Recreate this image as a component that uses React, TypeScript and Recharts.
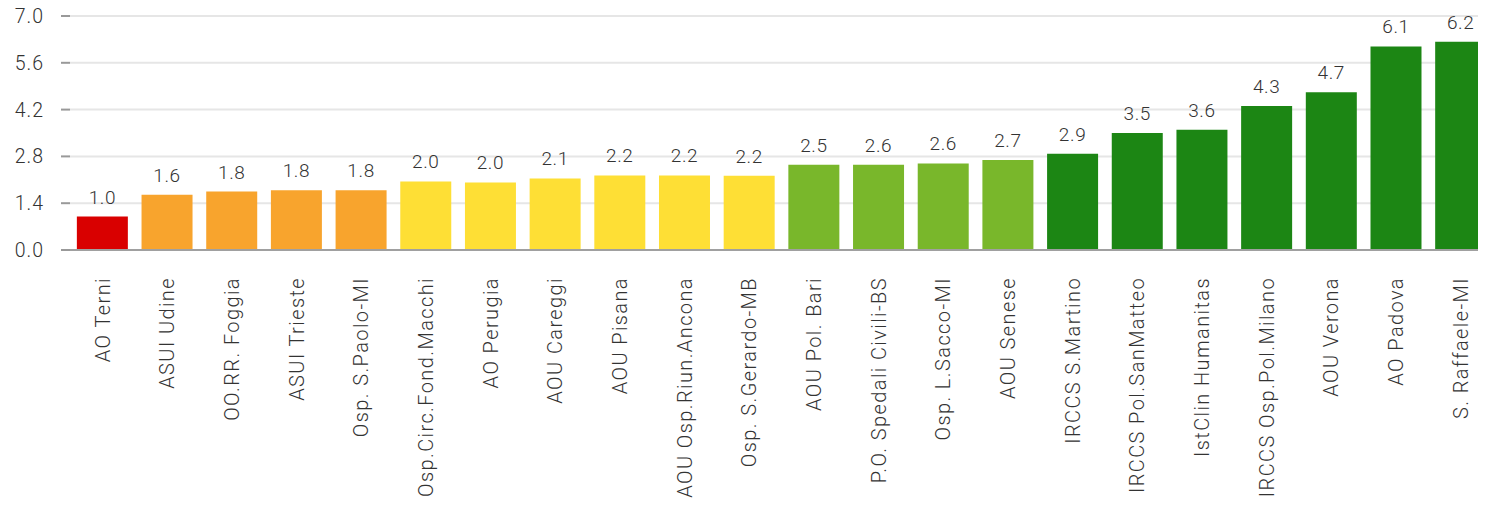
import React from 'react';
import { BarChart, Bar, XAxis, YAxis, CartesianGrid, Cell, LabelList } from 'recharts';

const categories = [
  'AO Terni', 'ASUI Udine', 'OO.RR. Foggia', 'ASUI Trieste', 'Osp. S.Paolo-MI',
  'Osp.Circ.Fond.Macchi', 'AO Perugia', 'AOU Careggi', 'AOU Pisana', 'AOU Osp.Riun.Ancona',
  'Osp. S.Gerardo-MB', 'AOU Pol. Bari', 'P.O. Spedali Civili-BS', 'Osp. L.Sacco-MI', 'AOU Senese',
  'IRCCS S.Martino', 'IRCCS Pol.SanMatteo', 'IstClin Humanitas', 'IRCCS Osp.Pol.Milano', 'AOU Verona',
  'AO Padova', 'S. Raffaele-MI',
];
const values = [
  1.0, 1.65, 1.75, 1.79, 1.79,
  2.05, 2.02, 2.14, 2.23, 2.23,
  2.22, 2.55, 2.55, 2.59, 2.69,
  2.88, 3.5, 3.6, 4.31, 4.72,
  6.09, 6.23,
];
const valueLabels = [
  '1.0', '1.6', '1.8', '1.8', '1.8',
  '2.0', '2.0', '2.1', '2.2', '2.2',
  '2.2', '2.5', '2.6', '2.6', '2.7',
  '2.9', '3.5', '3.6', '4.3', '4.7',
  '6.1', '6.2',
];
const colorGroups = [
  'red', 'orange', 'orange', 'orange', 'orange',
  'yellow', 'yellow', 'yellow', 'yellow', 'yellow',
  'yellow', 'lightgreen', 'lightgreen', 'lightgreen', 'lightgreen',
  'green', 'green', 'green', 'green', 'green',
  'green', 'green',
];
const yTicks = [0, 1.4, 2.8, 4.2, 5.6, 7.0];

const palette: Record<string, string> = {
  red: '#d90000',
  orange: '#f8a42d',
  yellow: '#fedf35',
  lightgreen: '#79b72b',
  green: '#1c8614',
};

const data = categories.map((name, i) => ({
  name,
  value: values[i],
  label: valueLabels[i],
  group: colorGroups[i],
}));

const FONT = 'Roboto, "DejaVu Sans", sans-serif';
const TEXT_COLOR = '#333';

const XTick = (props: any) => {
  const { x, y, payload } = props;
  return (
    <g transform={`translate(${x},${y})`}>
      <text
        transform="rotate(-90)"
        textAnchor="end"
        dy="0.36em"
        x={0}
        y={0}
        fill={TEXT_COLOR}
        fontSize={20}
        fontWeight={300}
        letterSpacing={1.4}
        fontFamily={FONT}
      >
        {payload.value}
      </text>
    </g>
  );
};

const YTick = (props: any) => {
  const { x, y, payload } = props;
  return (
    <text
      x={x}
      y={y}
      dy="0.36em"
      textAnchor="end"
      fill={TEXT_COLOR}
      fontSize={19.5}
      fontWeight={300}
      letterSpacing={1}
      fontFamily={FONT}
    >
      {Number(payload.value).toFixed(1)}
    </text>
  );
};

export default function App() {
  return (
    <div style={{ margin: -8, width: 1486, height: 509, overflow: 'hidden', background: '#fff' }}>
      <BarChart
        width={1500}
        height={509}
        data={data}
        margin={{ top: 16, right: 7, bottom: 0, left: 0 }}
        barCategoryGap="10.6%"
      >
        <CartesianGrid vertical={false} stroke="#e6e6e6" strokeWidth={2} />
        <XAxis
          dataKey="name"
          interval={0}
          height={259}
          tickLine={false}
          axisLine={{ stroke: '#a0a0a0', strokeWidth: 2 }}
          tick={<XTick />}
          tickMargin={21}
        />
        <YAxis
          width={70}
          domain={[0, 7]}
          ticks={yTicks}
          axisLine={false}
          tickLine={{ stroke: '#999', strokeWidth: 2 }}
          tickSize={9}
          tickMargin={17}
          tick={<YTick />}
        />
        <Bar dataKey="value" isAnimationActive={false}>
          {data.map((d, i) => (
            <Cell key={i} fill={palette[d.group]} />
          ))}
          <LabelList
            dataKey="label"
            position="top"
            offset={13}
            fill={TEXT_COLOR}
            fontSize={19}
            fontWeight={300}
            letterSpacing={0.6}
            fontFamily={FONT}
          />
        </Bar>
      </BarChart>
    </div>
  );
}
